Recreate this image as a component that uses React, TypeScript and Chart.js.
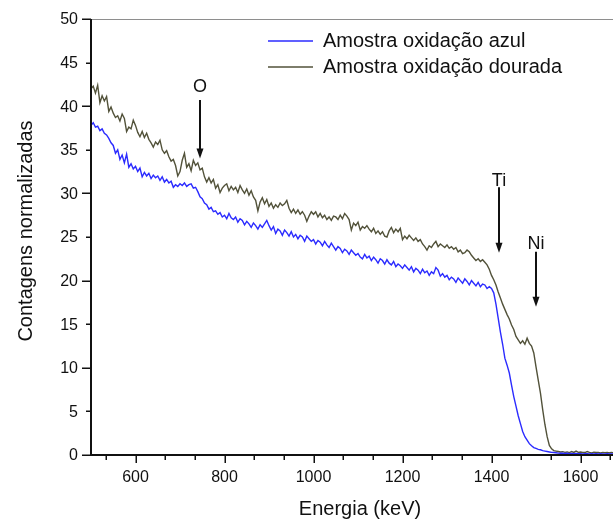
import { useEffect, useRef } from 'react';
import { Chart, registerables } from 'chart.js';

Chart.register(...registerables);

// Channel calibration of the RBS spectra
const ENERGY_START = 500; // keV, first channel
const ENERGY_STEP = 5; // keV per channel

// Normalised counts, blue-oxidised sample (500 … 1680 keV)
const AZUL = [
  37.8, 38.1, 37.6, 37.7, 37.2, 37.4, 36.9, 36.7, 36.3, 35.8, 35.5, 34.6, 35.0, 33.9, 34.4, 33.5, 34.5, 33.0, 33.4, 32.8,
  33.1, 32.5, 32.9, 31.9, 32.4, 32.0, 32.3, 31.7, 32.1, 31.8, 32.0, 31.5, 31.9, 31.3, 31.6, 31.2, 31.4, 30.7, 31.0, 30.8,
  31.1, 30.9, 31.2, 30.8, 31.0, 31.1, 30.6, 30.7, 30.2, 29.6, 29.4, 28.9, 28.7, 28.2, 28.4, 27.9, 28.0, 27.6, 27.8, 27.3,
  27.5, 27.1, 27.7, 27.2, 27.0, 27.3, 26.7, 27.1, 26.9, 26.4, 26.8, 26.5, 26.1, 26.6, 26.3, 25.9, 26.4, 26.1, 26.5, 26.9,
  26.3, 25.8, 26.2, 25.4, 25.9, 25.7, 25.2, 25.8, 25.5, 25.1, 25.6, 25.0, 25.3, 24.8, 25.2, 25.0, 24.5, 25.1, 24.8, 24.5,
  24.7, 24.2, 24.6, 24.4, 24.0, 24.5, 24.1, 23.8, 24.3, 23.9, 23.5, 23.9, 23.7, 23.2, 23.6, 23.4, 23.0, 23.5, 23.2, 22.9,
  23.1, 22.7, 22.5, 23.0, 22.6, 22.8, 22.3, 22.7, 22.4, 22.0, 22.5, 22.3, 21.9, 22.4, 22.0, 21.8, 22.2, 21.6, 21.9, 21.7,
  21.4, 21.8, 21.5, 21.2, 21.6, 21.0, 21.4, 21.2, 20.8, 21.3, 20.9, 21.1, 20.6, 21.0, 20.8, 21.5, 21.2, 20.5, 20.8, 20.4,
  20.6, 20.1, 20.4, 20.2, 19.8, 20.3, 20.0, 19.7, 20.2, 19.9, 19.5, 20.0, 19.7, 19.4, 19.8, 19.3, 19.6, 19.5, 19.1, 19.3,
  19.1, 18.6, 17.3, 15.7, 14.1, 12.7, 11.1, 10.3, 9.4, 8.0, 6.7, 5.6, 4.5, 3.6, 2.7, 2.1, 1.7, 1.3, 1.05, 0.85,
  0.75, 0.65, 0.6, 0.5, 0.45, 0.4, 0.35, 0.3, 0.28, 0.25, 0.22, 0.2, 0.2, 0.18, 0.2, 0.15, 0.18, 0.15, 0.17, 0.14,
  0.16, 0.13, 0.15, 0.14, 0.12, 0.15, 0.13, 0.14, 0.12, 0.15, 0.13, 0.12, 0.14, 0.12, 0.13, 0.12, 0.13,
];

// Normalised counts, gold-oxidised sample (500 … 1680 keV)
const DOURADA = [
  42.0, 42.3, 41.5, 42.4, 40.4, 41.2, 40.6, 41.1, 39.4, 39.9, 39.2, 38.7, 38.9, 38.3, 39.1, 38.6, 37.1, 37.6, 37.4, 38.4,
  37.8, 37.0, 36.5, 37.1, 36.4, 36.9, 36.2, 35.8, 35.3, 35.9, 35.6, 36.1, 35.0, 34.6, 34.9, 34.2, 33.7, 33.9, 33.2, 32.0,
  32.5, 33.8, 34.6, 33.0, 33.4, 32.6, 33.8, 33.2, 33.5, 32.7, 32.9, 31.9, 31.3, 31.8, 31.2, 31.6, 30.6, 31.0, 30.1, 30.6,
  30.9, 31.1, 30.3, 30.8, 30.4, 30.7, 30.1, 30.9, 30.4, 30.0, 30.5, 29.8, 30.3, 29.6, 29.2, 28.0, 29.0, 29.5, 28.8, 29.3,
  28.5, 28.9, 28.3, 28.7, 28.4, 28.9, 28.6, 28.8, 29.2, 28.3, 27.8, 28.2, 27.7, 28.1, 27.6, 27.9, 27.5, 26.8, 27.4, 27.9,
  27.6, 27.9, 27.3, 27.7, 27.2, 27.5, 27.0, 27.3, 26.9, 27.4, 27.3, 27.0, 27.5, 27.1, 27.7, 27.4, 27.0, 25.8, 26.6, 26.3,
  26.7, 25.8, 26.2, 26.0, 26.3, 25.9, 25.6, 26.0, 25.4, 25.7, 25.3, 25.6, 25.1, 25.0, 25.7, 26.1, 25.5, 25.9, 25.6, 26.0,
  24.7, 25.1, 24.8, 25.2, 24.9, 24.6, 24.9, 24.5, 24.7, 24.2, 23.9, 23.5, 24.0, 23.8, 24.2, 24.5, 23.9, 24.2, 24.0, 23.8,
  24.1, 23.7, 23.9, 23.6, 23.8, 23.3, 23.5, 23.1, 23.2, 23.5, 23.3, 22.9, 22.6, 22.3, 22.5, 22.2, 22.4, 22.1, 21.8, 21.3,
  20.6, 20.1, 19.5, 18.7, 18.0, 17.3, 16.7, 16.1, 15.6, 14.9, 14.4, 13.6, 13.2, 12.8, 13.1, 12.7, 13.4, 12.8, 12.5, 11.7,
  10.1, 8.6, 7.1, 5.2, 3.5, 2.1, 1.1, 0.7, 0.5, 0.45, 0.4, 0.35, 0.38, 0.3, 0.35, 0.28, 0.4, 0.3, 0.45, 0.3,
  0.35, 0.3, 0.28, 0.4, 0.3, 0.25, 0.33, 0.28, 0.3, 0.25, 0.3, 0.27, 0.3, 0.25, 0.28, 0.26, 0.28,
];

const SERIES_LABELS = ['Amostra oxidação azul', 'Amostra oxidação dourada'];
const SERIES_COLORS = ['#2b2bff', '#52523a'];

const X_MIN = 500;
const X_MAX = 1673;
const Y_MIN = 0;
const Y_MAX = 50;
const X_TICKS = [600, 800, 1000, 1200, 1400, 1600];
const Y_TICKS = [0, 5, 10, 15, 20, 25, 30, 35, 40, 45, 50];

const X_TITLE = 'Energia (keV)';
const Y_TITLE = 'Contagens normalizadas';

// Surface edges of the elements, marked with arrows
const EDGE_LABELS = ['O', 'Ti', 'Ni'];
const EDGE_ENERGY = [745, 1416, 1501];
const EDGE_TEXT_Y = [42.3, 31.5, 24.3];
const EDGE_ARROW_FROM = [40.7, 30.7, 23.3];
const EDGE_ARROW_TO = [34.0, 23.2, 17.0];

const FONT = '"Liberation Sans", Arial, sans-serif';

const toPoints = (values: number[]) =>
  values.map((v, i) => ({ x: ENERGY_START + i * ENERGY_STEP, y: v }));

const frame = {
  id: 'originFrame',
  afterDatasetsDraw(chart: any) {
    const { ctx, chartArea: a } = chart;
    const xs = chart.scales.x;
    const ys = chart.scales.y;
    ctx.save();

    // top frame line
    ctx.strokeStyle = '#8e8e8e';
    ctx.lineWidth = 1;
    ctx.beginPath();
    ctx.moveTo(a.left, a.top + 0.5);
    ctx.lineTo(a.right, a.top + 0.5);
    ctx.stroke();

    // axis lines
    ctx.strokeStyle = '#111';
    ctx.lineWidth = 2;
    ctx.beginPath();
    ctx.moveTo(a.left, a.top);
    ctx.lineTo(a.left, a.bottom + 1);
    ctx.moveTo(a.left - 1, a.bottom);
    ctx.lineTo(a.right, a.bottom);
    ctx.stroke();

    // y ticks: long on multiples of 10, short in between
    ctx.lineWidth = 1.5;
    ctx.beginPath();
    Y_TICKS.forEach((v) => {
      const py = Math.round(ys.getPixelForValue(v)) + 0.25;
      const len = v % 10 === 0 ? 8 : 4;
      ctx.moveTo(a.left - 1 - len, py);
      ctx.lineTo(a.left, py);
    });
    // x ticks: long at labelled values, two short ones between
    const minorStep = (X_TICKS[1] - X_TICKS[0]) / 3;
    for (let v = X_TICKS[0] - minorStep; v <= X_MAX; v += minorStep) {
      if (v < X_MIN) continue;
      const major = X_TICKS.some((t) => Math.abs(t - v) < 1e-6);
      const px = Math.round(xs.getPixelForValue(v)) + 0.25;
      ctx.moveTo(px, a.bottom);
      ctx.lineTo(px, a.bottom + (major ? 8 : 5));
    }
    ctx.stroke();

    // tick labels
    ctx.fillStyle = '#111';
    ctx.font = `16px ${FONT}`;
    ctx.textAlign = 'right';
    ctx.textBaseline = 'middle';
    Y_TICKS.forEach((v) => {
      ctx.fillText(String(v), a.left - 13, ys.getPixelForValue(v) + 1);
    });
    ctx.textAlign = 'center';
    ctx.textBaseline = 'alphabetic';
    X_TICKS.forEach((v) => {
      ctx.fillText(String(v), xs.getPixelForValue(v), a.bottom + 27);
    });

    // axis titles
    ctx.font = `20px ${FONT}`;
    ctx.fillText(X_TITLE, 360, a.bottom + 60);
    ctx.save();
    ctx.translate(32, 231);
    ctx.rotate(-Math.PI / 2);
    ctx.fillText(Y_TITLE, 0, 0);
    ctx.restore();

    // legend
    const ds = chart.data.datasets;
    ds.forEach((d: any, i: number) => {
      const ly = 41 + i * 26;
      ctx.strokeStyle = d.borderColor;
      ctx.lineWidth = 1.4;
      ctx.beginPath();
      ctx.moveTo(268, ly);
      ctx.lineTo(313, ly);
      ctx.stroke();
      ctx.fillStyle = '#111';
      ctx.font = `20px ${FONT}`;
      ctx.textAlign = 'left';
      ctx.textBaseline = 'middle';
      ctx.fillText(d.label, 323, ly);
    });

    // element edge arrows
    EDGE_LABELS.forEach((label, i) => {
      const px = Math.round(xs.getPixelForValue(EDGE_ENERGY[i]));
      const top = ys.getPixelForValue(EDGE_ARROW_FROM[i]);
      const tip = ys.getPixelForValue(EDGE_ARROW_TO[i]);
      ctx.fillStyle = '#111';
      ctx.font = `18px ${FONT}`;
      ctx.textAlign = 'center';
      ctx.textBaseline = 'middle';
      ctx.fillText(label, px, ys.getPixelForValue(EDGE_TEXT_Y[i]) + 1);
      ctx.strokeStyle = '#111';
      ctx.lineWidth = 2;
      ctx.beginPath();
      ctx.moveTo(px, top);
      ctx.lineTo(px, tip - 6);
      ctx.stroke();
      ctx.beginPath();
      ctx.moveTo(px - 3.5, tip - 10);
      ctx.lineTo(px + 3.5, tip - 10);
      ctx.lineTo(px, tip);
      ctx.closePath();
      ctx.fill();
    });

    ctx.restore();
  },
};

export default function App() {
  const canvasRef = useRef<HTMLCanvasElement | null>(null);

  useEffect(() => {
    if (!canvasRef.current) return;
    const chart = new Chart(canvasRef.current, {
      type: 'line',
      data: {
        datasets: [AZUL, DOURADA].map((values, i) => ({
          label: SERIES_LABELS[i],
          data: toPoints(values),
          borderColor: SERIES_COLORS[i],
          backgroundColor: SERIES_COLORS[i],
          borderWidth: 1.4,
          pointRadius: 0,
          tension: 0,
        })),
      },
      options: {
        responsive: false,
        animation: false,
        events: [],
        layout: { padding: { top: 19, left: 0, right: 0, bottom: 0 } },
        plugins: {
          legend: { display: false },
          tooltip: { enabled: false },
        },
        scales: {
          x: {
            type: 'linear',
            min: X_MIN,
            max: X_MAX,
            grid: { display: false, drawTicks: false },
            border: { display: false },
            ticks: { display: false },
            afterFit: (s: any) => {
              s.height = 66;
            },
          },
          y: {
            type: 'linear',
            min: Y_MIN,
            max: Y_MAX,
            grid: { display: false, drawTicks: false },
            border: { display: false },
            ticks: { display: false },
            afterFit: (s: any) => {
              s.width = 91;
            },
          },
        },
      },
      plugins: [frame],
    });
    return () => chart.destroy();
  }, []);

  return (
    <div style={{ position: 'fixed', left: 0, top: 0, width: 613, height: 521, background: '#fff' }}>
      <canvas ref={canvasRef} width={613} height={521} style={{ display: 'block' }} />
    </div>
  );
}
